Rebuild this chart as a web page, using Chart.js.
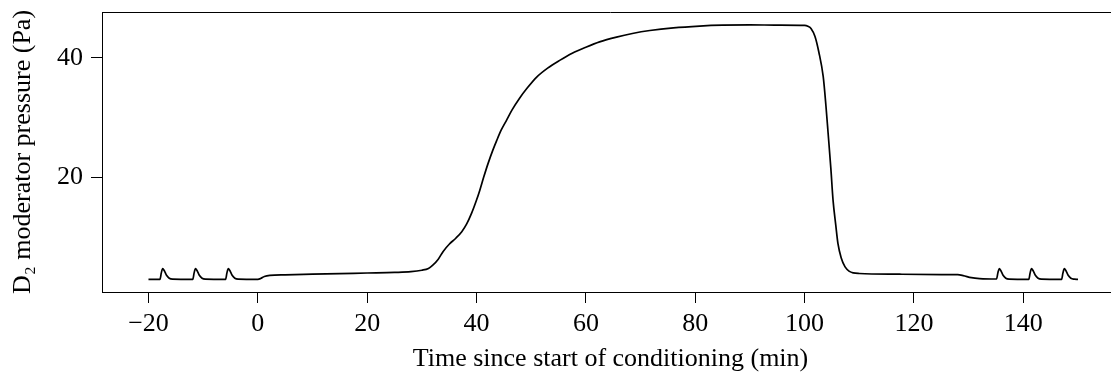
<!DOCTYPE html>
<html>
<head>
<meta charset="utf-8">
<script src="https://cdn.jsdelivr.net/npm/chart.js@4.4.1/dist/chart.umd.min.js"></script>
<style>
  html, body { margin: 0; padding: 0; background: #fff; overflow: hidden; }
  canvas { display: block; }
</style>
</head>
<body>
<!-- plot frame runs past the right edge of the window, as in the original -->
<canvas id="pressureChart" width="1119" height="372"></canvas>
<script>
// Data
const timeMin = [
  -20, -17.9, -17.65, -17.4, -17.1, -16.7, -16.2, -15.6,
  -11.9, -11.65, -11.4, -11.1, -10.7, -10.2, -9.6,
  -5.9, -5.65, -5.4, -5.1, -4.7, -4.2, -3.6,
  0, 0.5, 1.2, 2.2, 5, 10, 15, 20, 25, 28, 30, 31.2, 32, 33, 33.9, 35, 36.2, 37.3,
  38.2, 39.1, 40, 40.6, 41.3, 42.1, 43, 43.7, 44.5, 45.5, 46.5, 47.9, 49.3, 51,
  53, 55.2, 57.5, 60.1, 62.5, 65.6, 68.5, 71.7, 76, 80.8, 85, 90, 95, 100,
  100.6, 101.2, 101.9, 102.6, 103.4, 103.9, 104.3, 104.8, 105.2, 105.7, 106.1,
  106.7, 107.4, 108.2, 108.9, 110, 117.4, 125, 128, 129, 130.5, 132,
  135.1, 135.35, 135.6, 135.9, 136.3, 136.8, 137.4,
  141.0, 141.25, 141.5, 141.8, 142.2, 142.7, 143.3,
  147.0, 147.25, 147.5, 147.8, 148.2, 148.7, 149.3, 150
];
const pressurePa = [
  2.92, 2.92, 4.0, 4.71, 4.35, 3.6, 3.1, 2.95,
  2.92, 4.0, 4.71, 4.35, 3.6, 3.1, 2.95,
  2.92, 4.0, 4.71, 4.35, 3.6, 3.1, 2.95,
  2.92, 3.05, 3.4, 3.59, 3.68, 3.78, 3.88, 3.98, 4.08, 4.2, 4.45, 4.75, 5.3, 6.3, 7.6, 8.8, 9.8, 10.9,
  12.2, 14.0, 16.2, 17.85, 20.0, 22.3, 24.6, 26.2, 27.9, 29.6, 31.3, 33.3, 35.0, 36.8,
  38.3, 39.6, 40.8, 41.85, 42.7, 43.5, 44.1, 44.6, 45.05, 45.35, 45.5, 45.55, 45.5, 45.45,
  45.3, 44.9, 43.6, 41.0, 36.9, 32.0, 27.4, 21.5, 16.2, 12.0, 8.9,
  6.5, 5.0, 4.25, 4.0, 3.9, 3.78, 3.72, 3.7, 3.55, 3.2, 3.05,
  2.98, 4.0, 4.71, 4.35, 3.6, 3.1, 2.95,
  2.92, 4.0, 4.71, 4.35, 3.6, 3.1, 2.95,
  2.92, 4.0, 4.71, 4.35, 3.6, 3.1, 2.95, 2.92
];
const xTicks = [-20, 0, 20, 40, 60, 80, 100, 120, 140];
const yTicks = [20, 40];

const serif = "'Liberation Serif', 'DejaVu Serif', 'Times New Roman', serif";

// Top edge of the plot box (left/bottom come from the axis borders)
const frameTop = {
  id: "frameTop",
  afterDraw(chart) {
    const { ctx, chartArea: a } = chart;
    const y = Math.round(a.top) + 0.5;
    ctx.save();
    ctx.strokeStyle = "#000";
    ctx.lineWidth = 1;
    ctx.beginPath();
    ctx.moveTo(a.left, y);
    ctx.lineTo(a.right, y);
    ctx.stroke();
    ctx.restore();
  },
};

new Chart(document.getElementById("pressureChart").getContext("2d"), {
  type: "line",
  data: {
    datasets: [
      {
        data: timeMin.map((t, i) => ({ x: t, y: pressurePa[i] })),
        borderColor: "#000",
        borderWidth: 1.7,
        pointRadius: 0,
        cubicInterpolationMode: "monotone",
        fill: false,
      },
    ],
  },
  options: {
    responsive: false,
    animation: false,
    devicePixelRatio: 1,
    layout: { padding: { top: 12, right: 0, bottom: 0, left: 0 } },
    plugins: {
      legend: { display: false },
      tooltip: { enabled: false },
    },
    scales: {
      x: {
        type: "linear",
        min: -28.5,
        max: 157.5,
        afterBuildTicks: (s) => { s.ticks = xTicks.map((v) => ({ value: v })); },
        afterFit: (s) => {
          s.height = 80;
          s.paddingLeft = 0;
          s.paddingRight = 0;
        },
        grid: { drawOnChartArea: false, tickLength: 11, color: "#000" },
        border: { color: "#000" },
        ticks: {
          color: "#000",
          padding: 6,
          maxRotation: 0,
          font: { family: serif, size: 26 },
          callback: (v) => (v < 0 ? "\u2212" + Math.abs(v) : String(v)),
        },
        title: {
          display: true,
          text: "Time since start of conditioning (min)",
          color: "#000",
          font: { family: serif, size: 26, lineHeight: 1.0 },
          padding: { top: 0, bottom: 0 },
        },
      },
      y: {
        min: 0.8,
        max: 47.7,
        afterBuildTicks: (s) => { s.ticks = yTicks.map((v) => ({ value: v })); },
        afterFit: (s) => {
          s.width = 102;
          s.paddingTop = 0;
          s.paddingBottom = 0;
        },
        grid: { drawOnChartArea: false, tickLength: 11, color: "#000" },
        border: { color: "#000" },
        ticks: {
          color: "#000",
          padding: 8,
          font: { family: serif, size: 26 },
        },
        title: {
          display: true,
          text: "D\u2082 moderator pressure (Pa)",
          color: "#000",
          font: { family: serif, size: 26 },
          padding: { top: 8, bottom: 0 },
        },
      },
    },
  },
  plugins: [frameTop],
});
</script>
</body>
</html>
